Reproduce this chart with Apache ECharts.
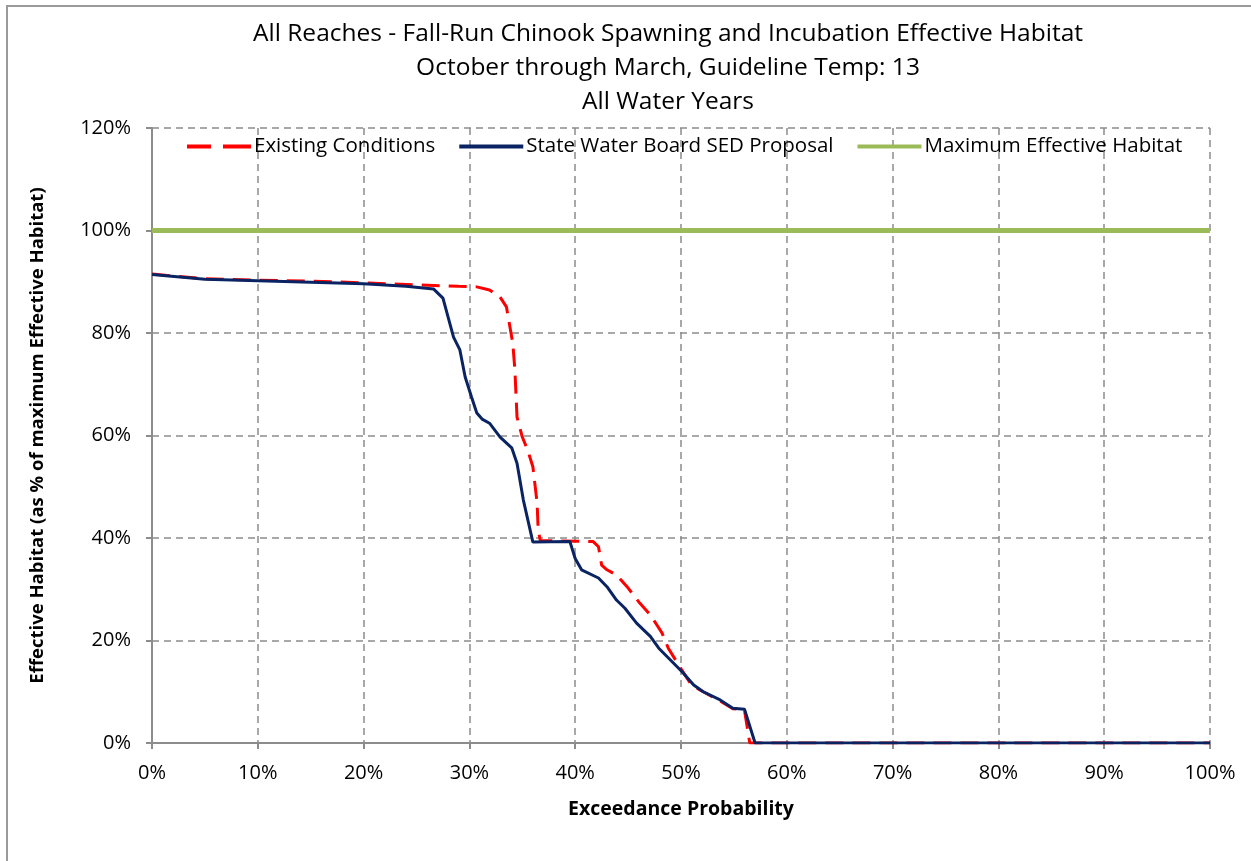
<!DOCTYPE html>
<html>
<head>
<meta charset="utf-8">
<script src="https://cdn.jsdelivr.net/npm/echarts@6/dist/echarts.min.js"></script>
<style>
  html, body { margin: 0; padding: 0; background: #fff; overflow: hidden; }
  #frame { position: absolute; left: 6px; top: 5px; width: 1300px; height: 900px;
           border-left: 2px solid #9a9a9a; border-top: 2px solid #9a9a9a; }
  #chart { position: absolute; left: 0; top: 0; width: 1251px; height: 861px; }
</style>
</head>
<body>
<div id="frame"></div>
<div id="chart"></div>
<script>
// exceedance probability (%) and effective habitat (%)
const existingX = [0, 5, 10, 15, 20, 25, 29, 30.7, 31.9, 32.9, 33.5, 34.1, 34.3, 34.5, 35.0, 35.5, 36.0, 36.4, 36.5, 36.7, 41.7, 42.2, 42.5, 43.0, 43.9, 44.9, 46.1, 47.1, 48.2, 48.8, 49.9, 51.0, 52.1, 53.7, 54.9, 56.0, 56.5, 100];
const existingY = [91.5, 90.6, 90.3, 90.1, 89.8, 89.4, 89.1, 89.0, 88.4, 87.0, 85.1, 78.0, 72.8, 63.6, 59.7, 57.2, 53.9, 46.8, 41.6, 39.5, 39.3, 38.3, 34.7, 33.8, 32.8, 30.5, 27.3, 25.0, 21.5, 18.5, 14.8, 11.3, 10.0, 8.2, 6.7, 6.4, 0, 0];

const sedX = [0, 5, 10, 15, 20, 24, 26.6, 27.5, 28.5, 29.1, 29.6, 30.2, 30.7, 31.2, 31.9, 32.9, 34.0, 34.5, 35.1, 36.0, 39.5, 40.0, 40.6, 42.2, 43.0, 43.9, 44.7, 45.8, 47.1, 47.9, 49.0, 50.1, 51.2, 52.1, 53.7, 54.9, 56.0, 57.0, 100];
const sedY = [91.4, 90.5, 90.2, 89.9, 89.6, 89.1, 88.6, 86.8, 79.2, 76.7, 71.4, 67.5, 64.4, 63.2, 62.4, 59.7, 57.6, 54.6, 47.4, 39.2, 39.3, 36.0, 33.8, 32.2, 30.5, 27.9, 26.3, 23.4, 20.8, 18.5, 16.2, 13.9, 11.3, 10.0, 8.4, 6.8, 6.6, 0, 0];

const maxX = [0, 100];
const maxY = [100, 100];

const seriesNames = ['Existing Conditions', 'State Water Board SED Proposal', 'Maximum Effective Habitat'];
const titleLines = [
  'All Reaches - Fall-Run Chinook Spawning and Incubation Effective Habitat',
  'October through March, Guideline Temp: 13',
  'All Water Years'
];

const pairs = (xs, ys) => xs.map((x, i) => [x, ys[i]]);
const font = '"Open Sans", "Noto Sans", sans-serif';

const chart = echarts.init(document.getElementById('chart'));
chart.setOption({
  animation: false,
  textStyle: { fontFamily: font },
  title: {
    text: titleLines.join('\n'),
    left: 663,
    textAlign: 'center',
    top: 12,
    textStyle: { fontSize: 24.5, fontWeight: 'normal', color: '#000', lineHeight: 34, fontFamily: font }
  },
  grid: { left: 152, right: 41, top: 128, bottom: 118 },
  legend: {
    top: 131,
    left: 182,
    itemWidth: 64,
    itemHeight: 4,
    itemGap: 24,
    textStyle: { fontSize: 20.5, color: '#000', padding: [0, 0, 0, -2] },
    data: [
      { name: seriesNames[0], icon: 'path://M0,0H24V4H0Z M36,0H64V4H36Z', itemStyle: { color: '#ff0000' } },
      { name: seriesNames[1], icon: 'rect', itemStyle: { color: '#0a2463' } },
      { name: seriesNames[2], icon: 'rect', itemStyle: { color: '#9bbb59' } }
    ]
  },
  xAxis: {
    type: 'value',
    min: 0, max: 100, interval: 10,
    name: 'Exceedance Probability',
    nameLocation: 'middle',
    nameGap: 56,
    nameTextStyle: { fontSize: 19.5, fontWeight: 'bold', color: '#000' },
    axisLine: { lineStyle: { color: '#8c8c8c', width: 2 } },
    axisTick: { show: true, length: 6, lineStyle: { color: '#8c8c8c', width: 2 } },
    axisLabel: { formatter: '{value}%', fontSize: 20, color: '#000', margin: 20 },
    splitLine: { show: true, lineStyle: { color: '#8c8c8c', width: 1.5, type: [7, 5] } }
  },
  yAxis: {
    type: 'value',
    min: 0, max: 120, interval: 20,
    name: 'Effective Habitat (as % of maximum Effective Habitat)',
    nameLocation: 'middle',
    nameGap: 105,
    nameTextStyle: { fontSize: 18.5, fontWeight: 'bold', color: '#000' },
    axisLine: { show: true, lineStyle: { color: '#8c8c8c', width: 2 } },
    axisTick: { show: true, length: 6, lineStyle: { color: '#8c8c8c', width: 2 } },
    axisLabel: { formatter: '{value}%', fontSize: 20, color: '#000', margin: 21 },
    splitLine: { show: true, lineStyle: { color: '#8c8c8c', width: 1.5, type: [7, 5] } }
  },
  series: [
    {
      name: seriesNames[2],
      type: 'line',
      data: pairs(maxX, maxY),
      symbol: 'none',
      lineStyle: { color: '#9bbb59', width: 5 },
      itemStyle: { color: '#9bbb59' },
      z: 2
    },
    {
      name: seriesNames[0],
      type: 'line',
      data: pairs(existingX, existingY),
      symbol: 'none',
      lineStyle: { color: '#ff0000', width: 3, type: [18, 9] },
      itemStyle: { color: '#ff0000' },
      z: 3
    },
    {
      name: seriesNames[1],
      type: 'line',
      data: pairs(sedX, sedY),
      symbol: 'none',
      lineStyle: { color: '#0a2463', width: 3 },
      itemStyle: { color: '#0a2463' },
      z: 4
    }
  ]
});
</script>
</body>
</html>
